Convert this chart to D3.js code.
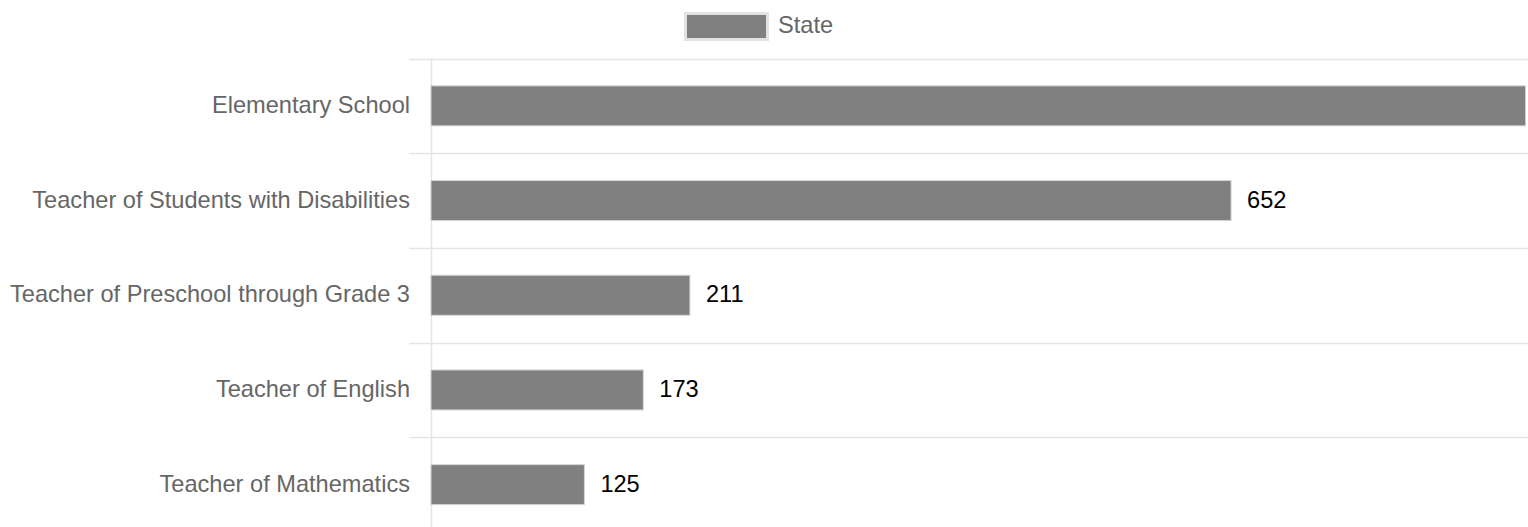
<!DOCTYPE html>
<html>
<head>
<meta charset="utf-8">
<script src="https://cdn.jsdelivr.net/npm/d3@7"></script>
<style>
  body { margin: 0; background: #fff; }
  svg text { font-family: Arial, "Liberation Sans", Helvetica, sans-serif; }
</style>
</head>
<body>
<svg id="chart" width="1528" height="527" style="display:block"></svg>
<script>
const categories = [
  "Elementary School",
  "Teacher of Students with Disabilities",
  "Teacher of Preschool through Grade 3",
  "Teacher of English",
  "Teacher of Mathematics"
];
const stateValues = [892, 652, 211, 173, 125];
const seriesName = "State";

const svg = d3.select("#chart");
const width = +svg.attr("width");
const height = +svg.attr("height");
const margin = { top: 58.5, right: 0, bottom: -5, left: 431 };
const fontSize = 23.6;

const x = d3.scaleLinear()
  .domain([0, 894])
  .range([margin.left, width - margin.right]);

const y = d3.scaleBand()
  .domain(categories)
  .range([margin.top, height - margin.bottom])
  .paddingInner(0)
  .paddingOuter(0);

const barH = 40;

// horizontal grid lines at band edges
const edges = categories.map(c => y(c)).concat([y.range()[1]]);
svg.append("g")
  .selectAll("line")
  .data(edges)
  .enter()
  .append("line")
  .attr("x1", margin.left - 22)
  .attr("x2", width)
  .attr("y1", d => Math.round(d) + 0.5)
  .attr("y2", d => Math.round(d) + 0.5)
  .attr("stroke", "#e5e5e5")
  .attr("stroke-width", 1.5);

// vertical axis line
svg.append("line")
  .attr("x1", x(0) + 0.5)
  .attr("x2", x(0) + 0.5)
  .attr("y1", margin.top)
  .attr("y2", height)
  .attr("stroke", "#e5e5e5")
  .attr("stroke-width", 1.5);

// bars
svg.append("g")
  .selectAll("rect")
  .data(stateValues)
  .enter()
  .append("rect")
  .attr("x", x(0))
  .attr("y", (d, i) => y(categories[i]) + y.bandwidth() / 2 - barH / 2)
  .attr("width", d => x(d) - x(0))
  .attr("height", barH)
  .attr("fill", "#808080")
  .attr("stroke", "#d4d4d4")
  .attr("stroke-width", 1);

// value labels (the largest one falls off the canvas)
svg.append("g")
  .selectAll("text")
  .data(stateValues)
  .enter()
  .append("text")
  .attr("x", d => x(d) + 16)
  .attr("y", (d, i) => y(categories[i]) + y.bandwidth() / 2)
  .attr("dy", "0.3em")
  .attr("font-size", fontSize)
  .attr("fill", "#000")
  .text(d => x(d) + 16 > width - 20 ? "" : d);

// category labels
svg.append("g")
  .selectAll("text")
  .data(categories)
  .enter()
  .append("text")
  .attr("x", margin.left - 21)
  .attr("y", d => y(d) + y.bandwidth() / 2)
  .attr("dy", "0.3em")
  .attr("text-anchor", "end")
  .attr("font-size", fontSize)
  .attr("fill", "#666")
  .text(d => d);

// legend
const legend = svg.append("g");
legend.append("rect")
  .attr("x", 685.5)
  .attr("y", 13.5)
  .attr("width", 82)
  .attr("height", 26)
  .attr("fill", "#808080")
  .attr("stroke", "#e3e3e3")
  .attr("stroke-width", 3);
legend.append("text")
  .attr("x", 778)
  .attr("y", 26)
  .attr("dy", "0.3em")
  .attr("font-size", fontSize)
  .attr("fill", "#666")
  .text(seriesName);
</script>
</body>
</html>
